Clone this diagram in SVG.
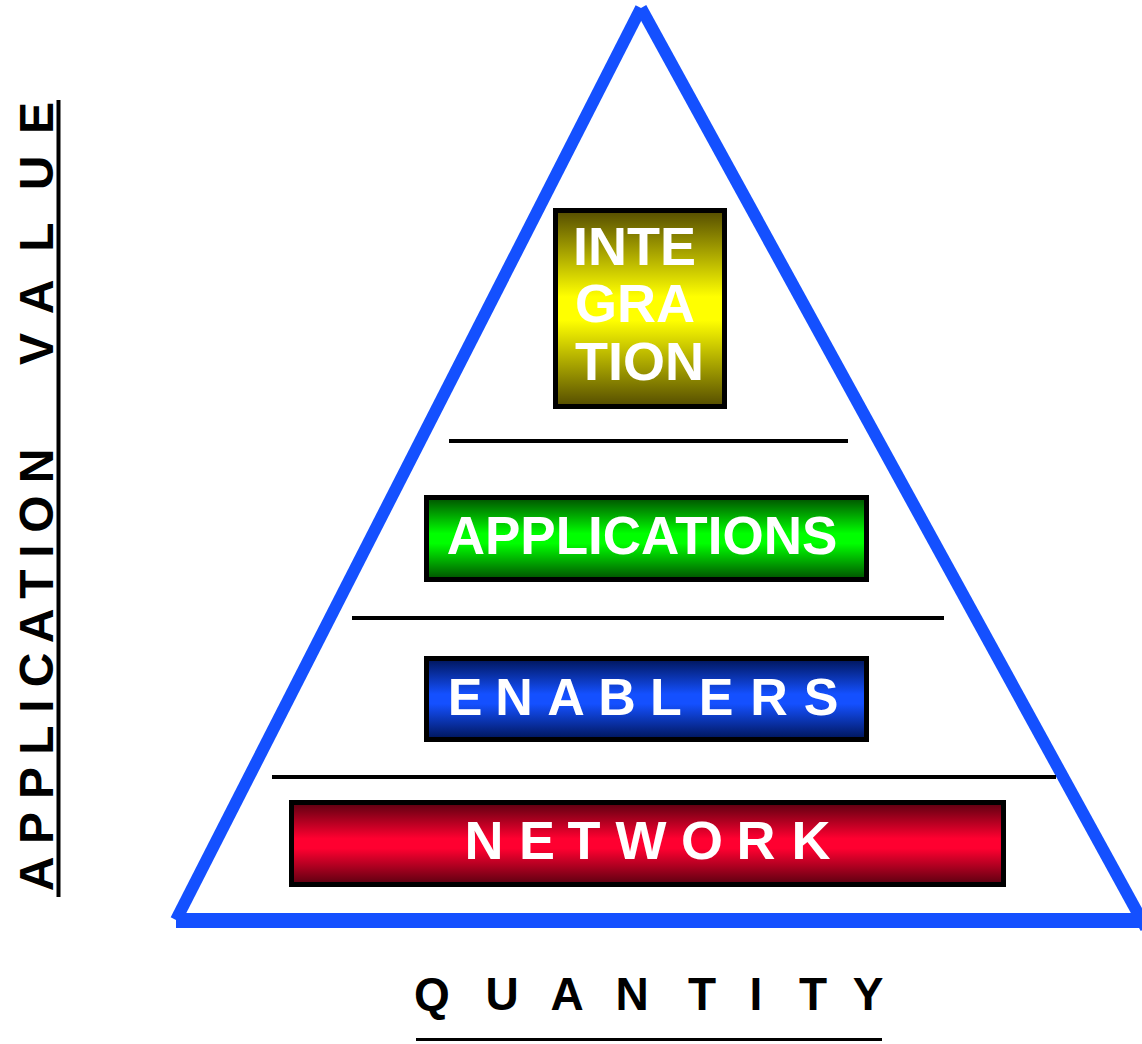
<svg xmlns="http://www.w3.org/2000/svg" width="1142" height="1044" viewBox="0 0 1142 1044">
  <defs>
    <linearGradient id="gYellow" x1="0" y1="0" x2="0" y2="1">
      <stop offset="0" stop-color="#544c00"/>
      <stop offset="0.44" stop-color="#ffff00"/>
      <stop offset="0.56" stop-color="#ffff00"/>
      <stop offset="1" stop-color="#544c00"/>
    </linearGradient>
    <linearGradient id="gGreen" x1="0" y1="0" x2="0" y2="1">
      <stop offset="0" stop-color="#005000"/>
      <stop offset="0.44" stop-color="#00ff00"/>
      <stop offset="0.56" stop-color="#00ff00"/>
      <stop offset="1" stop-color="#005000"/>
    </linearGradient>
    <linearGradient id="gBlue" x1="0" y1="0" x2="0" y2="1">
      <stop offset="0" stop-color="#001558"/>
      <stop offset="0.44" stop-color="#1450ff"/>
      <stop offset="0.56" stop-color="#1450ff"/>
      <stop offset="1" stop-color="#001558"/>
    </linearGradient>
    <linearGradient id="gRed" x1="0" y1="0" x2="0" y2="1">
      <stop offset="0" stop-color="#5a0010"/>
      <stop offset="0.44" stop-color="#ff0030"/>
      <stop offset="0.56" stop-color="#ff0030"/>
      <stop offset="1" stop-color="#5a0010"/>
    </linearGradient>
  </defs>
  <style>
    .box { stroke: #000; stroke-width: 5; }
    .lbl { fill: #fff; font-family: "Liberation Sans", Arial, sans-serif; font-weight: bold; }
    .axis { fill: #000; font-family: "Liberation Sans", Arial, sans-serif; font-weight: bold; }
    .rule { stroke: #000; stroke-width: 4; }
    .edge { stroke: #1450ff; stroke-width: 12; fill: none; }
  </style>

  <rect width="1142" height="1044" fill="#fff"/>

  <!-- pyramid outline -->
  <g id="pyramid">
    <line class="edge" x1="641" y1="8" x2="176" y2="920"/>
    <line class="edge" x1="641" y1="8" x2="1146" y2="928"/>
    <rect x="176" y="913" width="966" height="15" fill="#1450ff"/>
  </g>

  <!-- separators between tiers -->
  <g id="connectors">
    <line class="rule" x1="449" y1="441" x2="848" y2="441"/>
    <line class="rule" x1="352" y1="618" x2="944" y2="618"/>
    <line class="rule" x1="272" y1="777" x2="1056" y2="777"/>
  </g>

  <g id="integration">
    <rect class="box" x="555.5" y="210.5" width="169" height="196" fill="url(#gYellow)"/>
    <text class="lbl" font-size="54" x="573" y="265">INTE</text>
    <text class="lbl" font-size="54" x="575" y="322">GRA</text>
    <text class="lbl" font-size="54" x="575" y="380">TION</text>
  </g>

  <g id="applications">
    <rect class="box" x="426.5" y="497.5" width="440" height="82" fill="url(#gGreen)"/>
    <text class="lbl" font-size="53" x="642" y="554" text-anchor="middle">APPLICATIONS</text>
  </g>

  <g id="enablers">
    <rect class="box" x="426.5" y="658.5" width="440" height="81" fill="url(#gBlue)"/>
    <text class="lbl" font-size="52" y="715" text-anchor="middle" x="465 514 566 617 666 716 769 821">ENABLERS</text>
  </g>

  <g id="network">
    <rect class="box" x="291.5" y="802.5" width="712" height="82" fill="url(#gRed)"/>
    <text class="lbl" font-size="54" y="859" text-anchor="middle" x="484 537 584 641 702 756 811">NETWORK</text>
  </g>

  <g id="axis-y">
    <text class="axis" font-size="48" text-anchor="middle" transform="translate(53,0) rotate(-90)"
      x="-874 -828 -783 -740 -706 -670 -626 -584 -551 -514 -466 -349 -297 -237 -173 -118"
      y="0">APPLICATIONVALUE</text>
    <line x1="58.5" y1="100" x2="58.5" y2="897" stroke="#000" stroke-width="4"/>
  </g>

  <g id="axis-x">
    <text class="axis" font-size="46" y="1010" text-anchor="middle"
      x="432 502 567 632 702 756 813 868">QUANTITY</text>
    <line x1="416" y1="1039.5" x2="882" y2="1039.5" stroke="#000" stroke-width="3"/>
  </g>
</svg>
